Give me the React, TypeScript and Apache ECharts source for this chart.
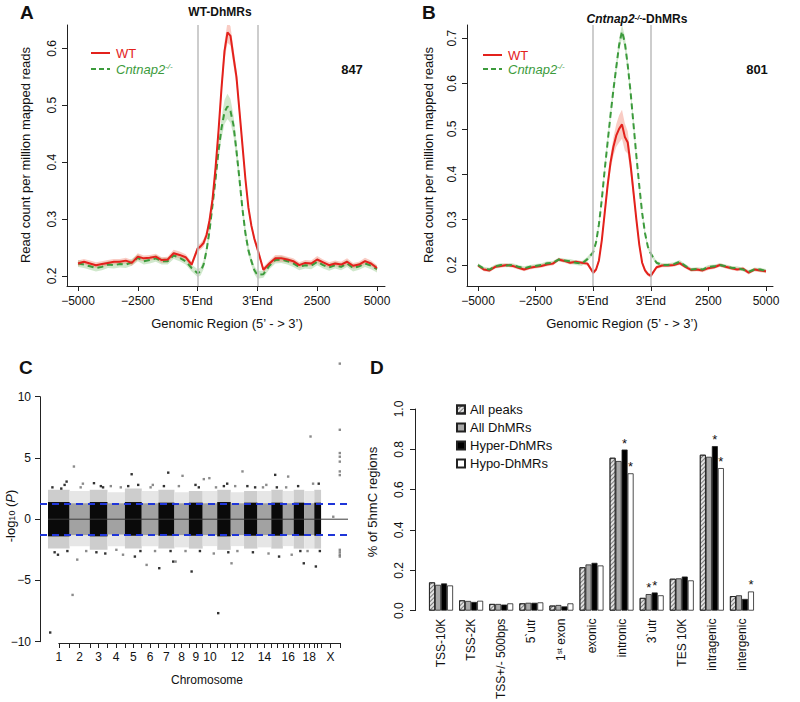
import React, { useEffect, useRef } from 'react';
import * as echarts from 'echarts';

const FONT = '"Liberation Sans", Arial, Helvetica, sans-serif';
const INK = '#111111';
const RED = '#e3211c';
const GREEN = '#3c9b3c';
const RED_BAND = 'rgba(240, 120, 100, 0.38)';
const GREEN_BAND = 'rgba(120, 190, 110, 0.35)';

// ---------------- Panels A & B : profiles ----------------
// bin position: -5000..5'End = 0..100, region = 100..150, 3'End..5000 = 150..250
const profileX = [
  0, 5, 10, 15, 20, 25, 30, 35, 40, 45, 50, 55, 60, 65, 70, 75, 80, 85, 90, 95,
  100, 102.5, 105, 107.5, 110, 112.5, 115, 117.5, 120, 122.5, 125, 127.5, 130, 132.5, 135, 137.5, 140, 142.5, 145, 147.5,
  150, 155, 160, 165, 170, 175, 180, 185, 190, 195, 200, 205, 210, 215, 220, 225, 230, 235, 240, 245, 250,
];
const profileTicks = [0, 50, 100, 150, 200, 250];
const profileTickLabels = ['\u22125000', '\u22122500', "5'End", "3'End", '2500', '5000'];
const regionBounds = [100, 150];

const wtA = [
  0.222, 0.225, 0.222, 0.219, 0.221, 0.223, 0.225, 0.225, 0.227, 0.223, 0.234, 0.231, 0.232, 0.234, 0.228, 0.229, 0.240, 0.237, 0.233, 0.220,
  0.248, 0.252, 0.258, 0.272, 0.298, 0.335, 0.390, 0.455, 0.530, 0.595, 0.628, 0.622, 0.585, 0.550, 0.490, 0.430, 0.370, 0.320, 0.288, 0.265,
  0.248, 0.211, 0.222, 0.231, 0.231, 0.229, 0.226, 0.219, 0.223, 0.222, 0.229, 0.224, 0.219, 0.222, 0.220, 0.225, 0.218, 0.220, 0.226, 0.222, 0.214,
];
const koA = [
  0.222, 0.220, 0.217, 0.214, 0.216, 0.220, 0.219, 0.221, 0.220, 0.224, 0.232, 0.226, 0.228, 0.231, 0.226, 0.226, 0.236, 0.232, 0.226, 0.214,
  0.205, 0.208, 0.220, 0.245, 0.280, 0.325, 0.370, 0.420, 0.460, 0.488, 0.498, 0.490, 0.465, 0.420, 0.370, 0.318, 0.275, 0.245, 0.226, 0.210,
  0.202, 0.203, 0.218, 0.228, 0.229, 0.226, 0.222, 0.216, 0.219, 0.218, 0.225, 0.219, 0.215, 0.219, 0.216, 0.222, 0.214, 0.217, 0.222, 0.218, 0.212,
];
const wtASe = [
  0.005, 0.005, 0.005, 0.005, 0.005, 0.005, 0.005, 0.005, 0.005, 0.005, 0.006, 0.005, 0.005, 0.005, 0.005, 0.005, 0.006, 0.006, 0.005, 0.005,
  0.006, 0.006, 0.007, 0.008, 0.009, 0.010, 0.011, 0.012, 0.014, 0.016, 0.018, 0.017, 0.015, 0.013, 0.011, 0.010, 0.008, 0.007, 0.006, 0.006,
  0.006, 0.005, 0.005, 0.006, 0.006, 0.005, 0.005, 0.005, 0.005, 0.005, 0.006, 0.005, 0.005, 0.005, 0.005, 0.006, 0.005, 0.005, 0.006, 0.005, 0.005,
];
const koASe = [
  0.006, 0.006, 0.006, 0.006, 0.006, 0.006, 0.006, 0.006, 0.006, 0.006, 0.006, 0.006, 0.006, 0.006, 0.006, 0.006, 0.006, 0.006, 0.006, 0.006,
  0.007, 0.007, 0.008, 0.009, 0.010, 0.012, 0.014, 0.016, 0.018, 0.021, 0.022, 0.021, 0.018, 0.016, 0.014, 0.012, 0.010, 0.008, 0.007, 0.007,
  0.007, 0.006, 0.006, 0.006, 0.006, 0.006, 0.006, 0.006, 0.006, 0.006, 0.006, 0.006, 0.006, 0.006, 0.006, 0.006, 0.006, 0.006, 0.006, 0.006, 0.006,
];

const wtB = [
  0.199, 0.190, 0.188, 0.196, 0.198, 0.200, 0.198, 0.194, 0.190, 0.194, 0.196, 0.198, 0.201, 0.203, 0.212, 0.209, 0.205, 0.207, 0.205, 0.203,
  0.183, 0.190, 0.210, 0.255, 0.315, 0.375, 0.425, 0.460, 0.485, 0.500, 0.510, 0.482, 0.470, 0.420, 0.360, 0.300, 0.245, 0.205, 0.188, 0.180,
  0.176, 0.195, 0.199, 0.199, 0.200, 0.204, 0.196, 0.189, 0.190, 0.188, 0.193, 0.195, 0.200, 0.196, 0.193, 0.190, 0.192, 0.183, 0.190, 0.188, 0.186,
];
const koB = [
  0.200, 0.192, 0.190, 0.197, 0.200, 0.199, 0.200, 0.196, 0.193, 0.196, 0.198, 0.200, 0.204, 0.205, 0.212, 0.210, 0.208, 0.205, 0.203, 0.213,
  0.228, 0.250, 0.290, 0.345, 0.410, 0.470, 0.530, 0.585, 0.635, 0.685, 0.715, 0.690, 0.640, 0.580, 0.510, 0.440, 0.375, 0.315, 0.270, 0.240,
  0.225, 0.205, 0.200, 0.200, 0.202, 0.207, 0.198, 0.190, 0.191, 0.190, 0.196, 0.197, 0.200, 0.197, 0.194, 0.193, 0.190, 0.185, 0.190, 0.190, 0.187,
];
const wtBSe = [
  0.004, 0.004, 0.004, 0.004, 0.004, 0.004, 0.004, 0.004, 0.004, 0.004, 0.004, 0.004, 0.004, 0.004, 0.004, 0.004, 0.004, 0.004, 0.004, 0.004,
  0.004, 0.005, 0.006, 0.008, 0.010, 0.013, 0.016, 0.020, 0.025, 0.030, 0.032, 0.030, 0.025, 0.020, 0.015, 0.011, 0.008, 0.006, 0.005, 0.004,
  0.004, 0.004, 0.004, 0.004, 0.004, 0.004, 0.004, 0.004, 0.004, 0.004, 0.004, 0.004, 0.004, 0.004, 0.004, 0.004, 0.004, 0.004, 0.004, 0.004, 0.004,
];
const koBSe = [
  0.004, 0.004, 0.004, 0.004, 0.004, 0.004, 0.004, 0.004, 0.004, 0.004, 0.004, 0.004, 0.004, 0.004, 0.004, 0.004, 0.005, 0.005, 0.005, 0.005,
  0.005, 0.006, 0.007, 0.008, 0.009, 0.010, 0.011, 0.012, 0.013, 0.014, 0.015, 0.014, 0.013, 0.012, 0.011, 0.010, 0.009, 0.007, 0.006, 0.005,
  0.005, 0.004, 0.004, 0.004, 0.004, 0.004, 0.004, 0.004, 0.004, 0.004, 0.004, 0.004, 0.004, 0.004, 0.004, 0.004, 0.004, 0.004, 0.004, 0.004, 0.004,
];
const yTicksA = [0.2, 0.3, 0.4, 0.5, 0.6];
const yTicksB = [0.2, 0.3, 0.4, 0.5, 0.6, 0.7];
const countA = '847';
const countB = '801';

// ---------------- Panel C : Manhattan-like plot ----------------
const chrNames = ['1', '2', '3', '4', '5', '6', '7', '8', '9', '10', '11', '12', '13', '14', '15', '16', '17', '18', '19', 'X'];
const chrLengths = [195, 182, 160, 157, 152, 150, 145, 130, 125, 131, 122, 120, 121, 125, 104, 98, 95, 91, 61, 171];
const chrShownLabels = ['1', '2', '3', '4', '5', '6', '7', '8', '9', '10', '12', '14', '16', '18', 'X'];
const coreHi = [1.4, 1.3, 1.4, 1.3, 1.4, 1.3, 1.35, 1.3, 1.35, 1.3, 1.4, 1.3, 1.35, 1.3, 1.35, 1.3, 1.35, 1.3, 1.35, 0];
const coreLo = [-1.4, -1.3, -1.4, -1.25, -1.35, -1.3, -1.35, -1.3, -1.35, -1.3, -1.4, -1.3, -1.35, -1.3, -1.35, -1.3, -1.35, -1.3, -1.35, 0];
const fringeHi = [2.4, 2.3, 2.4, 2.2, 2.5, 2.3, 2.4, 2.2, 2.3, 2.3, 2.4, 2.2, 2.3, 2.3, 2.4, 2.3, 2.4, 2.3, 2.4, 0];
const fringeLo = [-2.4, -2.2, -2.5, -2.2, -2.4, -2.2, -2.4, -2.3, -2.4, -2.2, -2.5, -2.2, -2.4, -2.3, -2.4, -2.2, -2.4, -2.4, -2.4, 0];
// [chromosome number (20 = X), position in Mb, signed -log10(P)]
const outliers: [number, number, number][] = [
  [1, 20, -9.25], [1, 150, 2.8], [1, 168, 3.07], [1, 120, 2.5], [1, 60, -2.7], [1, 90, -2.9], [1, 40, 2.6], [1, 175, -2.6],
  [2, 27, -6.18], [2, 39, 4.3], [2, 69, -3.3], [2, 100, 2.6], [2, 150, -2.6], [2, 120, 2.9],
  [3, 38, 2.94], [3, 60, -2.7], [3, 100, 2.7], [3, 140, -2.8], [3, 120, 2.6],
  [4, 30, 2.7], [4, 80, -2.5], [4, 120, 2.6], [4, 140, -2.9],
  [5, 61, 3.67], [5, 90, -3.05], [5, 30, 2.7], [5, 120, 2.8], [5, 140, -2.6],
  [6, 44, -3.73], [6, 80, 2.6], [6, 120, -2.6], [6, 100, 2.8],
  [7, 8, -4.0], [7, 89, 3.8], [7, 134, -3.46], [7, 50, 2.7], [7, 110, -2.6],
  [8, 10, -3.46], [8, 73, 3.54], [8, 100, -2.6], [8, 40, 2.7],
  [9, 25, -4.27], [9, 60, 2.8], [9, 100, -2.6], [9, 90, 2.6],
  [10, 10, 3.27], [10, 60, 3.35], [10, 100, -2.8], [10, 120, 2.6],
  [11, 9, -7.67], [11, 60, 2.7], [11, 100, -2.7], [11, 90, 2.9],
  [12, 7, -3.6], [12, 106, 3.9], [12, 60, -2.6], [12, 40, 2.7],
  [13, 30, 2.7], [13, 80, -2.7], [13, 100, 2.6],
  [14, 50, 2.6], [14, 100, -2.8], [14, 80, 2.8],
  [15, 35, 3.62], [15, 70, -3.05], [15, 50, 2.6],
  [16, 48, 3.48], [16, 80, -2.9], [16, 30, 2.6],
  [17, 91, -3.6], [17, 40, 2.7], [17, 60, -2.6],
  [18, 57, 6.75], [18, 80, 2.9], [18, 30, -2.6],
  [19, 14, -3.86], [19, 40, 2.9], [19, 50, -2.6],
  [20, 169, 12.7], [20, 169, 7.3], [20, 169, 5.4], [20, 169, 5.1], [20, 169, 4.7], [20, 169, 3.9], [20, 169, 3.6],
  [20, 169, -2.5], [20, 169, -2.7], [20, 169, -2.9], [20, 169, -3.05], [20, 110, 0.2],
];
const yTicksC = [-10, -5, 0, 5, 10];
const sigThreshold = 1.3;
const genomePad = 72;

// ---------------- Panel D : genomic features ----------------
const regions = ['TSS-10K', 'TSS-2K', 'TSS+/- 500bps', '5`utr', '1st exon', 'exonic', 'intronic', '3`utr', 'TES 10K', 'intragenic', 'intergenic'];
const allPeaks = [0.140, 0.051, 0.033, 0.036, 0.025, 0.215, 0.758, 0.063, 0.158, 0.773, 0.072];
const allDhMRs = [0.128, 0.048, 0.033, 0.039, 0.028, 0.229, 0.742, 0.082, 0.160, 0.763, 0.076];
const hyperDhMRs = [0.135, 0.043, 0.030, 0.039, 0.021, 0.237, 0.799, 0.090, 0.169, 0.816, 0.058];
const hypoDhMRs = [0.125, 0.049, 0.036, 0.041, 0.036, 0.224, 0.681, 0.076, 0.150, 0.707, 0.095];
const starsAllPeaks = [0, 0, 0, 0, 0, 0, 0, 0, 0, 0, 0];
const starsAllDhMRs = [0, 0, 0, 0, 0, 0, 0, 1, 0, 0, 0];
const starsHyper = [0, 0, 0, 0, 0, 0, 1, 1, 0, 1, 0];
const starsHypo = [0, 0, 0, 0, 0, 0, 1, 0, 0, 1, 1];
const yTicksD = [0, 0.2, 0.4, 0.6, 0.8, 1.0];

// ---------------- helpers ----------------
const axisLineStyle = { show: true, onZero: false, lineStyle: { color: '#222', width: 1 } };

function profileAxes(gi: number, xMin: number, xMax: number, yMin: number, yMax: number, yTicks: number[]) {
  const x = {
    type: 'value', gridIndex: gi, min: xMin, max: xMax, axisLine: axisLineStyle, splitLine: { show: false },
    axisTick: { show: true, length: 5, customValues: profileTicks, lineStyle: { color: '#222' } },
    axisLabel: {
      customValues: profileTicks, fontSize: 12, color: INK, fontFamily: FONT, margin: 9,
      formatter: (v: number) => profileTickLabels[profileTicks.indexOf(v)] ?? '',
    },
  };
  const y = {
    type: 'value', gridIndex: gi, min: yMin, max: yMax, axisLine: axisLineStyle, splitLine: { show: false },
    axisTick: { show: true, length: 5, customValues: yTicks, lineStyle: { color: '#222' } },
    axisLabel: {
      customValues: yTicks, rotate: 90, fontSize: 12, color: INK, fontFamily: FONT, margin: 9,
      formatter: (v: number) => v.toFixed(1),
    },
  };
  return [x, y];
}

function bandSeries(idx: number, mean: number[], se: number[], color: string) {
  return {
    type: 'custom', xAxisIndex: idx, yAxisIndex: idx, silent: true, z: 1, clip: true,
    data: [[profileX[0], mean[0]]],
    renderItem: (_p: any, api: any) => {
      const pts: number[][] = [];
      for (let i = 0; i < profileX.length; i++) pts.push(api.coord([profileX[i], mean[i] + se[i]]));
      for (let i = profileX.length - 1; i >= 0; i--) pts.push(api.coord([profileX[i], mean[i] - se[i]]));
      return { type: 'polygon', shape: { points: pts }, style: { fill: color } };
    },
  };
}

function lineSeries(idx: number, mean: number[], color: string, dashed: boolean) {
  return {
    type: 'line', xAxisIndex: idx, yAxisIndex: idx, silent: true, z: 3, symbol: 'none', showSymbol: false,
    data: profileX.map((x, i) => [x, mean[i]]),
    lineStyle: { color, width: 2, type: dashed ? [6, 4] : 'solid' },
  };
}

function regionLines(idx: number) {
  return {
    type: 'line', xAxisIndex: idx, yAxisIndex: idx, silent: true, z: 0, symbol: 'none', data: [],
    markLine: {
      symbol: 'none', silent: true, label: { show: false },
      lineStyle: { color: '#bcbcbc', width: 1.5, type: 'solid' },
      data: regionBounds.map((b) => ({ xAxis: b })),
    },
  };
}

function text(x: number, y: number, str: string, size: number, extra: any = {}) {
  const { rotation = 0, weight = 'normal', style = 'normal', align = 'center', color = INK, rich } = extra;
  return {
    type: 'text', x, y, rotation, z: 100, silent: true,
    style: {
      text: str, fontSize: size, fontFamily: FONT, fontWeight: weight, fontStyle: style, fill: color,
      align, verticalAlign: 'middle', textAlign: align, textVerticalAlign: 'middle', rich,
    },
  };
}

function koRich(color: string, size: number, bold: boolean) {
  return {
    i: { fontSize: size, fontFamily: FONT, fontStyle: 'italic', fontWeight: bold ? 'bold' : 'normal', fill: color, color },
    s: { fontSize: 8, fontFamily: FONT, fontStyle: 'italic', fontWeight: bold ? 'bold' : 'normal', fill: color, color, verticalAlign: 'top' },
    b: { fontSize: size, fontFamily: FONT, fontWeight: bold ? 'bold' : 'normal', fill: color, color },
  };
}

function legendLines(x: number, yWT: number, yKO: number) {
  return [
    { type: 'line', z: 100, silent: true, shape: { x1: x, y1: yWT, x2: x + 19, y2: yWT }, style: { stroke: RED, lineWidth: 2 } },
    text(x + 25, yWT, 'WT', 13, { align: 'left', color: RED }),
    { type: 'line', z: 100, silent: true, shape: { x1: x, y1: yKO, x2: x + 19, y2: yKO }, style: { stroke: GREEN, lineWidth: 2, lineDash: [5, 3] } },
    text(x + 25, yKO, '{i|Cntnap2}{s|-/-}', 13, { align: 'left', color: GREEN, rich: koRich(GREEN, 13, false) }),
  ];
}

function buildOption() {
  // chromosome layout
  const chrStarts: number[] = [];
  chrLengths.forEach((len, i) => chrStarts.push(i === 0 ? 0 : chrStarts[i - 1] + chrLengths[i - 1]));
  const genomeEnd = chrStarts[chrStarts.length - 1] + chrLengths[chrLengths.length - 1];
  const chrCenters = chrLengths.map((len, i) => chrStarts[i] + len / 2);
  const cMin = -genomePad;
  const cMax = genomeEnd + genomePad;
  const tickValsC = [...chrCenters, ...chrStarts.slice(1), genomeEnd].sort((a, b) => a - b);
  const cGridLeft = 40;
  const cGridWidth = 308;
  const pxPerMb = cGridWidth / (cMax - cMin);
  const axisLeft = cGridLeft + (chrCenters[0] - cMin) * pxPerMb;
  const axisWidth = (genomeEnd - chrCenters[0]) * pxPerMb;

  const areaPairs = (lo: number[], hi: number[], colors: string[]) =>
    chrNames
      .map((_, i) => i)
      .filter((i) => hi[i] > lo[i])
      .map((i) => [
        { xAxis: chrStarts[i], yAxis: hi[i], itemStyle: { color: colors[i % 2], opacity: 1 } },
        { xAxis: chrStarts[i] + chrLengths[i], yAxis: lo[i] },
      ]);

  const blockSeries = (lo: number[], hi: number[], colors: string[], z: number) => ({
    type: 'line', xAxisIndex: 2, yAxisIndex: 2, silent: true, z, symbol: 'none', data: [],
    markArea: { silent: true, label: { show: false }, data: areaPairs(lo, hi, colors) },
  });

  const outPts = (parity: number) =>
    outliers.filter((o) => (o[0] - 1) % 2 === parity).map((o) => [chrStarts[o[0] - 1] + o[1], o[2]]);

  const signed = (v: number) => (v < 0 ? '\u2212' + Math.abs(v) : String(v));

  const [xa, ya] = profileAxes(0, -9.2, 256.7, 0.1824, 0.641, yTicksA);
  const [xb, yb] = profileAxes(1, -9.55, 256.1, 0.1537, 0.729, yTicksB);

  const barItem = (vals: number[], stars: number[]) =>
    vals.map((v, i) => ({ value: v, label: { show: stars[i] === 1 } }));
  const barLabel = { show: false, position: 'top', formatter: '*', distance: 0, fontSize: 13, color: INK, fontFamily: FONT };
  const barBorder = { borderColor: '#222', borderWidth: 0.8 };

  return {
    animation: false,
    backgroundColor: '#ffffff',
    textStyle: { fontFamily: FONT },
    grid: [
      { left: 67, top: 25, width: 318, height: 261, containLabel: false },
      { left: 467, top: 25, width: 306, height: 261, containLabel: false },
      { left: cGridLeft, top: 396.7, width: cGridWidth, height: 245, containLabel: false },
      { left: axisLeft, top: 641, width: axisWidth, height: 2, containLabel: false },
      { left: 426, top: 409, width: 331, height: 202.7, containLabel: false },
    ],
    xAxis: [
      xa, xb,
      { type: 'value', gridIndex: 2, min: cMin, max: cMax, show: false },
      {
        type: 'value', gridIndex: 3, min: chrCenters[0], max: genomeEnd, axisLine: axisLineStyle, splitLine: { show: false },
        axisTick: { show: true, length: 5, customValues: tickValsC, lineStyle: { color: '#222' } },
        axisLabel: {
          customValues: chrCenters, fontSize: 12, color: INK, fontFamily: FONT, margin: 8,
          formatter: (v: number) => {
            const i = chrCenters.indexOf(v);
            return i >= 0 && chrShownLabels.includes(chrNames[i]) ? chrNames[i] : '';
          },
        },
      },
      {
        type: 'category', gridIndex: 4, data: regions, axisLine: { show: false }, axisTick: { show: false },
        axisLabel: {
          interval: 0, rotate: 90, margin: 8, fontSize: 12, color: INK, fontFamily: FONT,
          formatter: (v: string) => (v === '1st exon' ? '1{sup|st} exon' : v),
          rich: { sup: { fontSize: 8, fontFamily: FONT, color: INK, verticalAlign: 'top' } },
        },
      },
    ],
    yAxis: [
      ya, yb,
      {
        type: 'value', gridIndex: 2, min: -10, max: 10, axisLine: axisLineStyle, splitLine: { show: false },
        axisTick: { show: true, length: 5, customValues: yTicksC, lineStyle: { color: '#222' } },
        axisLabel: { customValues: yTicksC, fontSize: 12, color: INK, fontFamily: FONT, margin: 9, formatter: signed },
      },
      { type: 'value', gridIndex: 3, min: 0, max: 1, show: false },
      {
        type: 'value', gridIndex: 4, min: 0, max: 1, offset: 11, axisLine: axisLineStyle, splitLine: { show: false },
        axisTick: { show: true, length: 5, customValues: yTicksD, lineStyle: { color: '#222' } },
        axisLabel: { customValues: yTicksD, rotate: 90, fontSize: 12, color: INK, fontFamily: FONT, margin: 10, formatter: (v: number) => v.toFixed(1) },
      },
    ],
    legend: {
      data: ['All peaks', 'All DhMRs', 'Hyper-DhMRs', 'Hypo-DhMRs'],
      orient: 'vertical', left: 451, top: 398, itemWidth: 8, itemHeight: 8, itemGap: 5, icon: 'rect',
      selectedMode: false,
      textStyle: { fontSize: 13, fontFamily: FONT, color: INK, lineHeight: 13 },
    },
    series: [
      // Panel A
      regionLines(0),
      bandSeries(0, koA, koASe, GREEN_BAND),
      bandSeries(0, wtA, wtASe, RED_BAND),
      lineSeries(0, koA, GREEN, true),
      lineSeries(0, wtA, RED, false),
      // Panel B
      regionLines(1),
      bandSeries(1, wtB, wtBSe, RED_BAND),
      bandSeries(1, koB, koBSe, GREEN_BAND),
      lineSeries(1, wtB, RED, false),
      lineSeries(1, koB, GREEN, true),
      // Panel C
      blockSeries(fringeLo, fringeHi, ['#cdcdcd', '#e6e6e6'], 1),
      blockSeries(coreLo, coreHi, ['#0a0a0a', '#a2a2a2'], 2),
      {
        type: 'scatter', xAxisIndex: 2, yAxisIndex: 2, silent: true, z: 3, clip: false,
        symbol: 'rect', symbolSize: 2.4, itemStyle: { color: '#000' }, data: outPts(0),
      },
      {
        type: 'scatter', xAxisIndex: 2, yAxisIndex: 2, silent: true, z: 3, clip: false,
        symbol: 'rect', symbolSize: 2.4, itemStyle: { color: '#6e6e6e' }, data: outPts(1),
      },
      {
        type: 'line', xAxisIndex: 2, yAxisIndex: 2, silent: true, z: 4, symbol: 'none',
        data: [[0, 0], [cMax, 0]], lineStyle: { color: '#3a3a3a', width: 1 },
        markLine: {
          symbol: 'none', silent: true, label: { show: false },
          lineStyle: { color: '#1f35d8', width: 2, type: [7, 5] },
          data: [{ yAxis: sigThreshold }, { yAxis: -sigThreshold }],
        },
      },
      // Panel D
      {
        name: 'All peaks', type: 'bar', xAxisIndex: 4, yAxisIndex: 4, barWidth: 6, barGap: '0%',
        data: barItem(allPeaks, starsAllPeaks), label: barLabel,
        itemStyle: {
          color: '#e2e2e2', ...barBorder,
          decal: { symbol: 'rect', symbolSize: 1, color: 'rgba(0,0,0,0.45)', backgroundColor: 'rgba(0,0,0,0)', dashArrayX: [1, 0], dashArrayY: [1, 2], rotation: -Math.PI / 4 },
        },
      },
      {
        name: 'All DhMRs', type: 'bar', xAxisIndex: 4, yAxisIndex: 4, barWidth: 6, barGap: '0%',
        data: barItem(allDhMRs, starsAllDhMRs), label: barLabel, itemStyle: { color: '#a9a9a9', ...barBorder },
      },
      {
        name: 'Hyper-DhMRs', type: 'bar', xAxisIndex: 4, yAxisIndex: 4, barWidth: 6, barGap: '0%',
        data: barItem(hyperDhMRs, starsHyper), label: barLabel, itemStyle: { color: '#000000', ...barBorder },
      },
      {
        name: 'Hypo-DhMRs', type: 'bar', xAxisIndex: 4, yAxisIndex: 4, barWidth: 6, barGap: '0%',
        data: barItem(hypoDhMRs, starsHypo), label: barLabel, itemStyle: { color: '#ffffff', ...barBorder },
      },
    ],
    graphic: [
      // Panel A
      text(20, 12, 'A', 19, { weight: 'bold', align: 'left' }),
      text(220, 12, 'WT-DhMRs', 12, { weight: 'bold' }),
      ...legendLines(91, 53, 69),
      text(352, 69, countA, 13, { weight: 'bold' }),
      text(25, 155, 'Read count per million mapped reads', 13, { rotation: Math.PI / 2 }),
      text(227, 323, 'Genomic Region (5\u2019 - > 3\u2019)', 13),
      // Panel B
      text(422, 12, 'B', 19, { weight: 'bold', align: 'left' }),
      text(637, 19, '{i|Cntnap2}{s|-/-}{b|-DhMRs}', 12, { weight: 'bold', rich: koRich(INK, 12, true) }),
      ...legendLines(483, 55, 69),
      text(757, 69, countB, 13, { weight: 'bold' }),
      text(428, 155, 'Read count per million mapped reads', 13, { rotation: Math.PI / 2 }),
      text(622, 323, 'Genomic Region (5\u2019 - > 3\u2019)', 13),
      // Panel C
      text(19, 367, 'C', 19, { weight: 'bold', align: 'left' }),
      text(10, 516, '-log{sub|10} ({it|P})', 13, {
        rotation: Math.PI / 2,
        rich: {
          sub: { fontSize: 9, fontFamily: FONT, fill: INK, color: INK, verticalAlign: 'bottom' },
          it: { fontSize: 13, fontFamily: FONT, fontStyle: 'italic', fill: INK, color: INK },
        },
      }),
      text(207, 680, 'Chromosome', 12),
      // Panel D
      text(370, 367, 'D', 19, { weight: 'bold', align: 'left' }),
      text(372, 502, '% of 5hmC regions', 13, { rotation: Math.PI / 2 }),
    ],
  };
}

export default function App() {
  const ref = useRef<HTMLDivElement>(null);
  useEffect(() => {
    if (!ref.current) return;
    const chart = echarts.init(ref.current, null, { renderer: 'svg' });
    chart.setOption(buildOption() as any);
    return () => chart.dispose();
  }, []);
  return (
    <div
      ref={ref}
      style={{ position: 'fixed', left: 0, top: 0, width: 800, height: 702, background: '#ffffff' }}
    />
  );
}
